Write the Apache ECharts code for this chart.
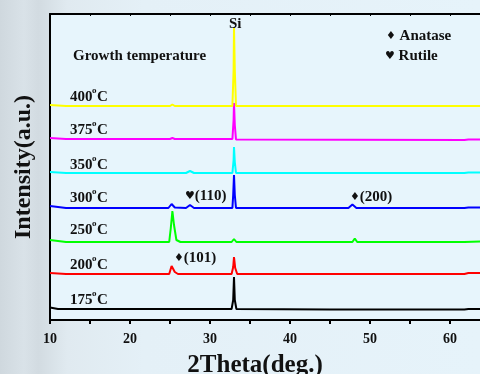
<!DOCTYPE html>
<html>
<head>
<meta charset="utf-8">
<title>XRD</title>
<script src="https://cdn.jsdelivr.net/npm/echarts@6/dist/echarts.min.js"></script>
<style>
  html, body { margin: 0; padding: 0; }
  body {
    width: 480px; height: 374px; overflow: hidden;
    background: linear-gradient(to right, #cfd8de 0%, #d9e2e8 5%, #d2dbe1 8%, #e0eaf0 14%, #e4f0f7 30%, #e6f3fa 100%);
  }
  #main { width: 480px; height: 374px; }
</style>
</head>
<body>
<div id="main"></div>
<script type="text/javascript">
// 2Theta (deg) vs. stacked intensity (a.u.)
var temps = ['175', '200', '250', '300', '350', '375', '400'];
var labelY = [302, 267, 232, 200, 167, 132, 99];

var trace175 = [[10,12.5],[11,11],[20,11],[32.7,11],[32.9,20],[33.0,43],[33.1,20],[33.3,11],[45,10.5],[61.8,10.5],[62,12],[62.3,11],[65,11]];
var trace200 = [[10,47],[12,46],[24.9,46],[25.2,54],[25.35,56],[25.6,48],[26,46],[32.7,46],[32.9,53],[33.0,63],[33.15,52],[33.4,46],[37.8,46],[37.95,48],[38.1,46],[48,46],[48.1,47],[48.2,46],[61.8,46],[62,48],[62.3,47],[65,47]];
var trace250 = [[10,80],[12,78],[24.9,78],[25.1,92],[25.3,109],[25.5,95],[25.8,80],[26.3,78],[32.7,78],[33.0,81],[33.3,78],[47.8,78],[48.1,81.5],[48.4,78],[61.8,78],[62,79],[65,79]];
var trace300 = [[10,114],[12,112],[24.8,112],[25.2,116],[25.6,112.5],[27,112],[27.5,115],[28,112],[32.8,112],[32.9,125],[33.0,145],[33.1,125],[33.25,112],[47.3,112],[47.8,115.5],[48.3,112],[61.8,112],[62,113.5],[62.3,112.5],[65,112.5]];
var trace350 = [[10,148],[12,147],[27,147],[27.5,149],[28,147],[32.8,147],[32.95,160],[33.0,173],[33.1,158],[33.25,147],[61.8,147],[62,148.5],[62.3,147.5],[65,147.5]];
var trace375 = [[10,182],[12,181],[25,181],[25.3,182],[25.6,181],[32.8,181],[32.95,200],[33.0,217],[33.1,195],[33.25,180.5],[61.8,180],[62,181.5],[62.3,180.5],[65,180.5]];
var trace400 = [[10,215],[12,214],[25,214],[25.3,215.5],[25.6,214],[32.8,214],[32.95,250],[33.0,292],[33.1,250],[33.25,214],[61.8,214],[62,215.5],[62.3,214],[65,214]];

var traces = [trace175, trace200, trace250, trace300, trace350, trace375, trace400];
var colors = ['#000000', '#ff0000', '#00ff00', '#0000ff', '#00ffff', '#ff00ff', '#ffff00'];

var font = '"Liberation Serif", "DejaVu Serif", serif';
var myChart = echarts.init(document.getElementById('main'));

var series = traces.map(function (d, i) {
  return {
    type: 'line',
    data: d,
    showSymbol: false,
    lineStyle: { width: 2, color: colors[i] },
    itemStyle: { color: colors[i] },
    animation: false
  };
});

function txt(x, y, text, rich) {
  return {
    type: 'text', left: x, top: y - 9,
    style: {
      text: text,
      fontFamily: font, fontWeight: 'bold', fontSize: 15,
      fill: '#111', rich: rich || {}
    }
  };
}

var symRich = {
  sym: { fontFamily: 'DejaVu Sans', fontSize: 11, fill: '#111' },
  t: { fontFamily: font, fontWeight: 'bold', fontSize: 15, fill: '#111' }
};

var graphics = [];
temps.forEach(function (t, i) {
  graphics.push(txt(70, labelY[i], t));
  // superscript "o" of the degree sign
  graphics.push({
    type: 'text', left: 92, top: labelY[i] - 13,
    style: { text: 'o', fontFamily: font, fontWeight: 'bold', fontSize: 9, fill: '#111' }
  });
  graphics.push(txt(97, labelY[i], 'C'));
});
graphics.push(txt(73, 58, 'Growth temperature'));
graphics.push(txt(229, 26, 'Si'));
graphics.push(txt(386, 38, '{sym|\u2666} {t|Anatase}', symRich));
graphics.push(txt(385, 58, '{sym|\u2665} {t|Rutile}', symRich));
graphics.push(txt(185, 198, '{sym|\u2665}{t|(110)}', symRich));
graphics.push(txt(174, 260, '{sym|\u2666}{t|(101)}', symRich));
graphics.push(txt(350, 199, '{sym|\u2666}{t|(200)}', symRich));

var option = {
  animation: false,
  grid: {
    left: 50, top: 14, width: 440, height: 306,
    show: true, backgroundColor: '#e7f5fc', borderWidth: 0,
    containLabel: false, outerBoundsMode: 'none'
  },
  xAxis: [{
    type: 'value', min: 10, max: 65, interval: 10,
    name: '2Theta(deg.)', nameLocation: 'middle', nameGap: 33,
    nameTextStyle: { fontFamily: font, fontWeight: 'bold', fontSize: 25, color: '#111', padding: [0, 30, 0, 0] },
    axisLine: { lineStyle: { color: '#000', width: 2 } },
    axisTick: { length: 4, lineStyle: { width: 2 } },
    minorTick: { show: true, splitNumber: 2, length: 4, lineStyle: { color: '#000', width: 2 } },
    axisLabel: { fontFamily: font, fontWeight: 'bold', fontSize: 14, color: '#111', margin: 12, showMaxLabel: false },
    splitLine: { show: false }
  }, {
    type: 'value', position: 'top', min: 10, max: 65, interval: 5,
    axisLine: { lineStyle: { color: '#000', width: 2 } },
    axisTick: { inside: true, length: 2, lineStyle: { width: 1 } },
    axisLabel: { show: false },
    splitLine: { show: false }
  }],
  yAxis: {
    type: 'value', min: 0, max: 306,
    name: 'Intensity(a.u.)', nameLocation: 'middle', nameGap: 14, nameRotate: 90,
    nameTextStyle: { fontFamily: font, fontWeight: 'bold', fontSize: 24, color: '#111' },
    axisLine: { show: true, lineStyle: { color: '#000', width: 2 } },
    axisTick: { show: false },
    axisLabel: { show: false },
    splitLine: { show: false }
  },
  series: series,
  graphic: graphics
};

myChart.setOption(option);
</script>
</body>
</html>
